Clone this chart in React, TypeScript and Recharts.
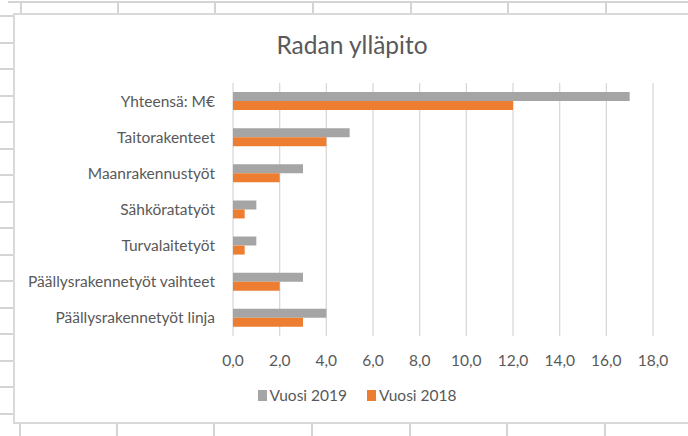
import React from "react";
import {
  BarChart,
  Bar,
  XAxis,
  YAxis,
  CartesianGrid,
  Legend,
} from "recharts";

const categories = [
  "Yhteensä: M€",
  "Taitorakenteet",
  "Maanrakennustyöt",
  "Sähköratatyöt",
  "Turvalaitetyöt",
  "Päällysrakennetyöt vaihteet",
  "Päällysrakennetyöt linja",
];
const vuosi2019 = [17.0, 5.0, 3.0, 1.0, 1.0, 3.0, 4.0];
const vuosi2018 = [12.0, 4.0, 2.0, 0.5, 0.5, 2.0, 3.0];
const valueTicks = [0, 2, 4, 6, 8, 10, 12, 14, 16, 18];
const seriesNames = ["Vuosi 2019", "Vuosi 2018"];
const seriesColors = ["#a5a5a5", "#ed7d31"];

const data = categories.map((name, i) => ({
  name,
  v2019: vuosi2019[i],
  v2018: vuosi2018[i],
}));

const FONT = "Lato, 'Open Sans', sans-serif";
const TEXT = "#595959";
const SHEET = "#d4d4d4";

// spreadsheet cell borders behind the chart object
const colLines = [20, 117, 214, 312, 410, 507, 605];
const rowLines = Array.from({ length: 16 }, (_, i) => 15 + i * 26.5);

function SheetBackground() {
  return (
    <>
      <div style={{ position: "absolute", left: 8, top: 1, width: 680, height: 2, background: SHEET }} />
      {colLines.map((x) => (
        <div key={"t" + x} style={{ position: "absolute", left: x, top: 2, width: 2, height: 12, background: SHEET }} />
      ))}
      {colLines.map((x) => (
        <div key={"b" + x} style={{ position: "absolute", left: x - 1, top: 422, width: 2, height: 14, background: SHEET }} />
      ))}
      {rowLines.map((y) => (
        <div key={"r" + y} style={{ position: "absolute", left: 0, top: y, width: 13, height: 2, background: SHEET }} />
      ))}
      <div
        style={{
          position: "absolute",
          left: 13,
          top: 13,
          width: 700,
          height: 407,
          border: "2px solid #d9d9d9",
          background: "#fff",
        }}
      />
    </>
  );
}

function LegendContent() {
  return (
    <div style={{ display: "flex", justifyContent: "center", fontFamily: FONT, fontSize: 15.5, color: TEXT, paddingLeft: 26 }}>
      {seriesNames.map((n, i) => (
        <div key={n} style={{ display: "flex", alignItems: "center", marginRight: i === 0 ? 20 : 0 }}>
          <span style={{ width: 9, height: 11, background: seriesColors[i], marginRight: 3, display: "inline-block" }} />
          <span>{n}</span>
        </div>
      ))}
    </div>
  );
}

export default function App() {
  return (
    <div style={{ position: "absolute", left: 0, top: 0, width: 688, height: 436, overflow: "hidden", background: "#fff" }}>
      <SheetBackground />
      <div
        style={{
          position: "absolute",
          left: 0,
          top: 30,
          width: 688,
          textAlign: "center",
          fontFamily: FONT,
          fontSize: 24.5,
          color: TEXT,
          paddingLeft: 16,
          boxSizing: "border-box",
        }}
      >
        Radan ylläpito
      </div>
      <div style={{ position: "absolute", left: 0, top: 0 }}>
        <BarChart
          width={688}
          height={436}
          data={data}
          layout="vertical"
          margin={{ top: 83, right: 35, left: 0, bottom: 40 }}
          barGap={0}
          barSize={9}
        >
          <CartesianGrid horizontal={false} stroke="#d9d9d9" strokeWidth={1.3} />
          <XAxis
            type="number"
            domain={[0, 18]}
            ticks={valueTicks}
            tickFormatter={(v: number) => v.toFixed(1).replace(".", ",")}
            axisLine={false}
            tickLine={false}
            tickSize={0}
            tickMargin={19}
            height={40}
            tick={{ fontSize: 15.5, fill: TEXT, fontFamily: FONT }}
          />
          <YAxis
            type="category"
            dataKey="name"
            width={233}
            axisLine={false}
            tickLine={false}
            tickSize={0}
            tickMargin={18}
            interval={0}
            tick={{ fontSize: 15.5, fill: TEXT, fontFamily: FONT }}
          />
          <Legend
            content={<LegendContent />}
            wrapperStyle={{ top: 386, left: 0, width: 688, height: 20 }}
          />
          <Bar dataKey="v2019" name={seriesNames[0]} fill={seriesColors[0]} isAnimationActive={false} />
          <Bar dataKey="v2018" name={seriesNames[1]} fill={seriesColors[1]} isAnimationActive={false} />
        </BarChart>
      </div>
    </div>
  );
}
